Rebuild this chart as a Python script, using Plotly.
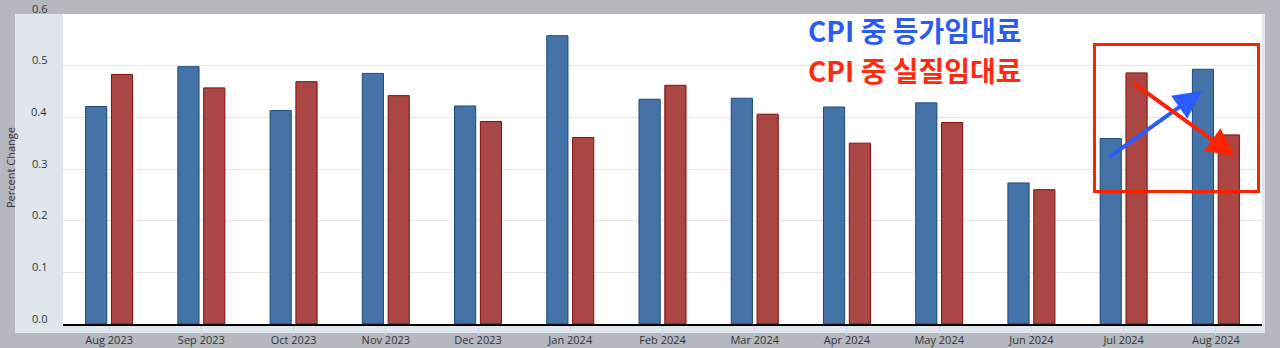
import plotly.graph_objects as go

categories = ["Aug 2023", "Sep 2023", "Oct 2023", "Nov 2023", "Dec 2023", "Jan 2024",
              "Feb 2024", "Mar 2024", "Apr 2024", "May 2024", "Jun 2024", "Jul 2024", "Aug 2024"]
oer_values = [0.421, 0.498, 0.413, 0.485, 0.422, 0.558, 0.435, 0.437, 0.420, 0.428, 0.273, 0.359, 0.493]
rent_values = [0.483, 0.457, 0.469, 0.442, 0.392, 0.361, 0.462, 0.406, 0.350, 0.390, 0.260, 0.486, 0.366]
y_ticks = [0.0, 0.1, 0.2, 0.3, 0.4, 0.5, 0.6]

W, H = 1280, 348
L, R, T, B = 63, 18, 14, 24
PW, PH = W - L - R, H - T - B


def px(x):
    return (x - L) / PW


def py(y):
    return (H - B - y) / PH


fig = go.Figure()
fig.add_trace(go.Bar(x=categories, y=oer_values, name="Owners' equivalent rent of residences",
                     marker=dict(color="#4572a7", line=dict(color="#1a4a80", width=1))))
fig.add_trace(go.Bar(x=categories, y=rent_values, name="Rent of primary residence",
                     marker=dict(color="#aa4643", line=dict(color="#850d0d", width=1))))

font = dict(family="Open Sans, sans-serif", size=11, color="#333333")

annotations = [
    dict(xref="paper", yref="y", x=px(49), y=v, yshift=6, text=f"{v:.1f}", showarrow=False,
         xanchor="right", yanchor="middle", font=font)
    for v in y_ticks
]
annotations += [
    dict(xref="paper", yref="paper", x=px(10), y=py(168), text="Percent Change", showarrow=False,
         textangle=-90, font=font, xanchor="center", yanchor="middle"),
    dict(xref="paper", yref="paper", x=px(806), y=py(30), text="<b>CPI 중 등가임대료</b>", showarrow=False,
         xanchor="left", yanchor="middle",
         font=dict(family="Noto Sans CJK KR", size=28, color="#2a5cf0")),
    dict(xref="paper", yref="paper", x=px(806), y=py(70), text="<b>CPI 중 실질임대료</b>", showarrow=False,
         xanchor="left", yanchor="middle",
         font=dict(family="Noto Sans CJK KR", size=28, color="#ff2a10")),
    dict(xref="paper", yref="paper", x=px(1202), y=py(91), text="", showarrow=True,
         ax=1108 - 1202, ay=158 - 91, arrowhead=2, arrowsize=1.4, arrowwidth=4,
         arrowcolor="#2a5cff", standoff=0, startstandoff=0),
    dict(xref="paper", yref="paper", x=px(1235), y=py(156), text="", showarrow=True,
         ax=1132 - 1235, ay=82 - 156, arrowhead=2, arrowsize=1.4, arrowwidth=4,
         arrowcolor="#ff2200", standoff=0, startstandoff=0),
]

fig.update_layout(
    width=W, height=H,
    margin=dict(l=L, r=R, t=T, b=B, autoexpand=False),
    paper_bgcolor="#b5b9bf",
    plot_bgcolor="rgba(0,0,0,0)",
    showlegend=False,
    barmode="group",
    bargap=0.44,
    bargroupgap=0.18,
    font=font,
    xaxis=dict(
        type="category", showline=True, linecolor="#000000", linewidth=2,
        ticks="outside", ticklen=9, tickcolor="#ccd6eb", tickwidth=1,
        showgrid=False, tickfont=font, automargin=False, ticklabelstandoff=-4,
    ),
    yaxis=dict(
        range=[0, 0.6], tickvals=y_ticks, showticklabels=False,
        showgrid=True, gridcolor="#e6e6e6", gridwidth=1, zeroline=False,
        showline=False, ticks="", automargin=False,
    ),
    shapes=[
        dict(type="rect", xref="paper", yref="paper", x0=px(15), x1=px(1265), y0=py(333), y1=py(14),
             fillcolor="#dfe6ee", line=dict(width=0), layer="below"),
        dict(type="rect", xref="paper", yref="paper", x0=0, x1=1, y0=0, y1=1,
             fillcolor="#ffffff", line=dict(width=0), layer="below"),
        dict(type="rect", xref="paper", yref="paper", x0=px(1094.5), x1=px(1258.5), y0=py(191.5), y1=py(44.5),
             fillcolor="rgba(0,0,0,0)", line=dict(color="#ff2200", width=3), layer="above"),
    ],
    annotations=annotations,
)

fig.write_html("out.html")
